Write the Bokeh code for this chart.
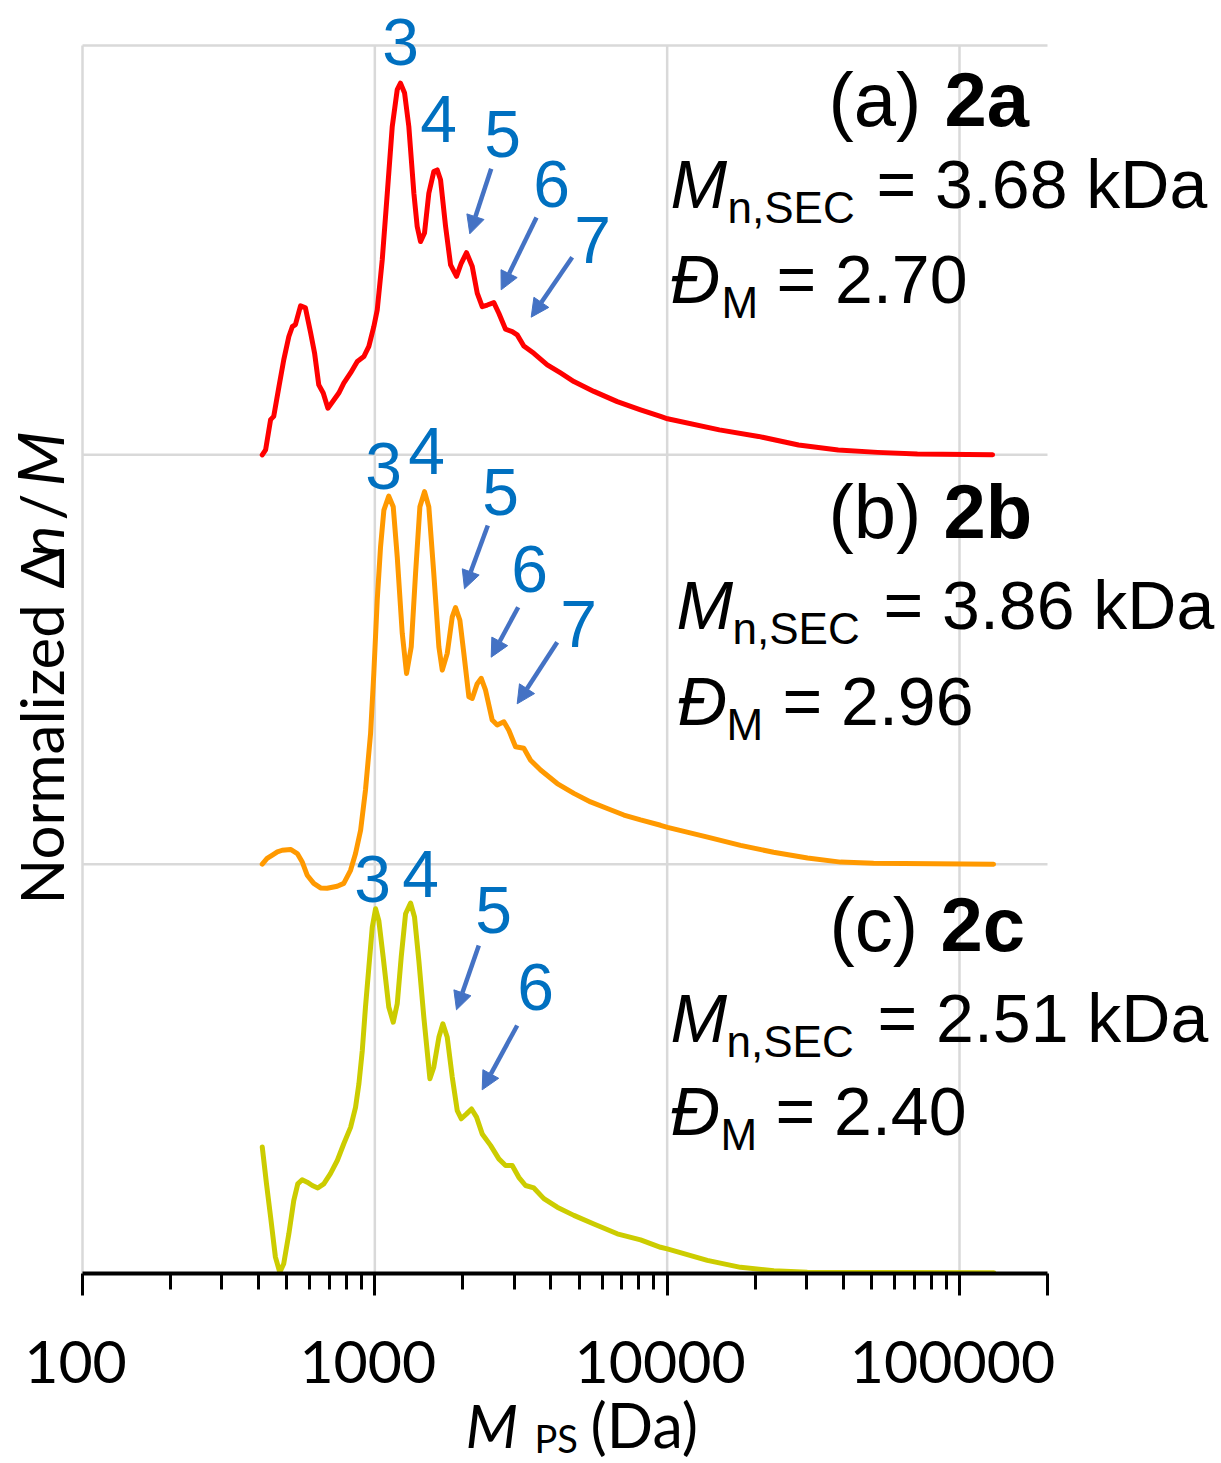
import math
from bokeh.plotting import figure
from bokeh.layouts import column
from bokeh.models import (FixedTicker, Label, Arrow, NormalHead, Range1d,
                          CustomJSTickFormatter)
from bokeh.embed import file_html
from bokeh.resources import INLINE

# ---------------- data ----------------
# x: polystyrene-equivalent molar mass M_PS (Da); y: normalized dn/M
red_mass = [412, 423, 440, 451, 470, 488, 508, 522, 535, 557, 579, 603, 622, 643, 666,
            691, 724, 753, 783, 826, 871, 917, 954, 992, 1019, 1060, 1103, 1147, 1193, 1224,
            1264, 1307, 1360, 1396, 1433, 1479, 1530, 1591, 1635, 1678, 1746, 1816, 1903, 1975, 2059,
            2154, 2240, 2330, 2424, 2553, 2656, 2800, 2951, 3069, 3233, 3499, 3889, 4318, 4796, 5614,
            6750, 8110, 9493, 10030, 15090, 20540, 28150, 38460, 52460, 71780, 129800]
red_norm = [0.000, 0.012, 0.086, 0.094, 0.167, 0.232, 0.289, 0.313, 0.318, 0.364, 0.359, 0.298, 0.249, 0.171, 0.151,
            0.114, 0.134, 0.151, 0.175, 0.200, 0.228, 0.240, 0.265, 0.313, 0.354, 0.476, 0.639, 0.802, 0.892, 0.908,
            0.884, 0.802, 0.639, 0.558, 0.521, 0.542, 0.639, 0.692, 0.696, 0.672, 0.558, 0.464, 0.436, 0.468, 0.494,
            0.460, 0.395, 0.362, 0.366, 0.372, 0.346, 0.307, 0.301, 0.293, 0.266, 0.248, 0.220, 0.200, 0.179, 0.155,
            0.130, 0.110, 0.094, 0.088, 0.061, 0.045, 0.024, 0.012, 0.006, 0.002, 0.000]

orange_mass = [412, 428, 446, 464, 482, 515, 543, 564, 587, 618, 652, 687, 744, 783, 826,
               859, 894, 929, 967, 992, 1019, 1046, 1074, 1116, 1156, 1193, 1241, 1284, 1332, 1378,
               1426, 1479, 1530, 1591, 1656, 1701, 1769, 1840, 1888, 1954, 2016, 2097, 2154, 2240, 2312,
               2392, 2521, 2622, 2763, 2873, 3029, 3233, 3410, 3689, 4207, 4796, 5470, 6239, 7111, 8110,
               9493, 10030, 13750, 17830, 23120, 30210, 39190, 50830, 130800]
orange_norm = [0.000, 0.014, 0.022, 0.030, 0.034, 0.036, 0.026, 0.006, -0.027, -0.047, -0.058, -0.059, -0.054, -0.047, -0.015,
               0.026, 0.083, 0.181, 0.319, 0.466, 0.645, 0.775, 0.865, 0.899, 0.873, 0.751, 0.564, 0.466, 0.531, 0.710,
               0.873, 0.910, 0.873, 0.710, 0.531, 0.474, 0.515, 0.604, 0.627, 0.596, 0.515, 0.409, 0.405, 0.441, 0.454,
               0.425, 0.352, 0.340, 0.348, 0.327, 0.287, 0.283, 0.254, 0.230, 0.197, 0.173, 0.152, 0.136, 0.120, 0.108,
               0.095, 0.090, 0.066, 0.046, 0.029, 0.015, 0.005, 0.002, 0.000]

yellow_mass = [412, 426, 440, 457, 473, 488, 508, 528, 545, 564, 587, 611, 638, 669, 705,
               744, 783, 826, 859, 882, 906, 929, 954, 980, 1006, 1032, 1068, 1116, 1156, 1193,
               1231, 1274, 1325, 1367, 1414, 1471, 1543, 1591, 1656, 1709, 1769, 1840, 1914, 1975, 2059,
               2142, 2228, 2330, 2488, 2656, 2800, 2951, 3108, 3277, 3499, 3786, 4207, 4796, 5614, 6750,
               8110, 9493, 10010, 13720, 17830, 23170, 30150, 131100]
yellow_norm = [0.309, 0.219, 0.138, 0.040, 0.003, 0.024, 0.097, 0.178, 0.219, 0.229, 0.223, 0.215, 0.209, 0.219, 0.244,
               0.276, 0.317, 0.357, 0.406, 0.463, 0.545, 0.651, 0.748, 0.846, 0.891, 0.862, 0.773, 0.651, 0.614, 0.659,
               0.773, 0.879, 0.905, 0.871, 0.765, 0.626, 0.476, 0.504, 0.577, 0.610, 0.577, 0.480, 0.398, 0.378, 0.390,
               0.402, 0.382, 0.341, 0.313, 0.280, 0.264, 0.264, 0.235, 0.215, 0.209, 0.183, 0.162, 0.142, 0.121, 0.097,
               0.082, 0.064, 0.060, 0.032, 0.015, 0.007, 0.003, 0.002]

tick_values = [100, 1000, 10000, 100000]
tick_labels = ["100", "1000", "10000", "100000"]
grid_levels = [1, 2, 3]

panel_names = ["2a", "2b", "2c"]
panel_letters = ["(a)", "(b)", "(c)"]
mn_sec = ["3.68", "3.86", "2.51"]
dispersity = ["2.70", "2.96", "2.40"]

# ---------------- layout (pixel geometry of the picture) ----------------
W, H = 1221, 1463
PLOT_L, PLOT_R = 82, 1047        # x = 100 .. 200000
PLOT_T, PLOT_B = 45, 1273        # y = 3 .. 0
X_MIN, X_MAX = 100, 200000
Y_MAX = 3
DEC = (PLOT_R - PLOT_L) / math.log10(X_MAX / X_MIN)
UNIT = (PLOT_B - PLOT_T) / Y_MAX
TOP_H = PLOT_B + 26               # main figure: frame + tick panel
BASE_SHIFT = 0.36                 # alphabetic baseline correction (em)


def X(px):
    return X_MIN * 10 ** ((px - PLOT_L) / DEC)


def PX(v):
    return PLOT_L + DEC * math.log10(v / X_MIN)


def Y(py):
    return (PLOT_B - py) / UNIT


p = figure(width=W, height=TOP_H, x_axis_type="log",
           x_range=Range1d(X(0), X(W)), y_range=Range1d(0, Y(0)),
           output_backend="svg", toolbar_location=None,
           min_border_left=0, min_border_right=0, min_border_top=0,
           min_border_bottom=TOP_H - PLOT_B)
p.outline_line_color = None
p.yaxis.visible = False
p.xgrid.visible = False
p.ygrid.visible = False

GRID = "#D9D9D9"
p.segment(x0=[X_MIN] * len(grid_levels), x1=[X_MAX] * len(grid_levels),
          y0=grid_levels, y1=grid_levels, line_color=GRID, line_width=2.5)
p.segment(x0=tick_values, x1=tick_values, y0=[0] * len(tick_values),
          y1=[Y_MAX] * len(tick_values), line_color=GRID, line_width=2.5)

ax = p.xaxis[0]
ax.bounds = (X_MIN, X_MAX)
ax.ticker = FixedTicker(ticks=tick_values + [X_MAX],
                        minor_ticks=[k * 10 ** d for d in (2, 3, 4) for k in range(2, 10)])
ax.formatter = CustomJSTickFormatter(code="return '';")
ax.major_label_text_font_size = "0px"
ax.major_label_standoff = 0
ax.axis_line_width = 4
ax.axis_line_color = "black"
ax.major_tick_line_width = 3
ax.major_tick_in = 0
ax.major_tick_out = 22
ax.minor_tick_line_width = 3
ax.minor_tick_in = 0
ax.minor_tick_out = 16

# ---------------- curves ----------------
series = [(red_mass, red_norm, "#FF0000", 2),
          (orange_mass, orange_norm, "#FF9900", 1),
          (yellow_mass, yellow_norm, "#CCCC00", 0)]
for mass, norm, color, off in series:
    p.line(mass, [v + off for v in norm], line_color=color, line_width=5,
           line_join="round", line_cap="round")


# ---------------- annotations ----------------
def lab(fig, px, py, text, size, font="Liberation Sans", style="normal", color="black",
        align="left", rotated=False, ymap=Y):
    if rotated:
        x, y, ang = X(px - BASE_SHIFT * size), ymap(py), math.pi / 2
    else:
        x, y, ang = X(px), ymap(py - BASE_SHIFT * size), 0.0
    fig.add_layout(Label(x=x, y=y, text=text, text_font=font,
                         text_font_size=f"{size}px", text_font_style=style,
                         text_color=color, text_align=align, text_baseline="alphabetic",
                         angle=ang))


panel_pos = [
    dict(l=828, n=944, b1=126, b2=208, b3=303, mx=670, sx=727, ex=876, dx=670, dsx=721, ex2=776),
    dict(l=828, n=943, b1=538, b2=629, b3=725, mx=676, sx=732, ex=883, dx=677, dsx=726, ex2=782),
    dict(l=829, n=940, b1=951, b2=1042, b3=1135, mx=670, sx=726, ex=877, dx=670, dsx=720, ex2=775),
]
for i, pp in enumerate(panel_pos):
    lab(p, pp["l"], pp["b1"], panel_letters[i] + " ", 76)
    lab(p, pp["n"], pp["b1"], panel_names[i], 76, style="bold")
    lab(p, pp["mx"], pp["b2"], "M", 68, style="italic")
    lab(p, pp["sx"], pp["b2"] + 15, "n,SEC", 44)
    lab(p, pp["ex"], pp["b2"], "= " + mn_sec[i] + " kDa", 68)
    lab(p, pp["dx"], pp["b3"], "\u0110", 68, style="italic")
    lab(p, pp["dsx"], pp["b3"] + 15, "M", 44)
    lab(p, pp["ex2"], pp["b3"], "= " + dispersity[i], 68)

NUM = "#0070C0"
numbers = [
    [("3", 400, 65), ("4", 438, 142), ("5", 502, 157), ("6", 551, 207), ("7", 592, 263)],
    [("3", 383, 489), ("4", 426, 474), ("5", 500, 515), ("6", 529, 592), ("7", 578, 647)],
    [("3", 372, 902), ("4", 420, 897), ("5", 493, 933), ("6", 535, 1010)],
]
for grp in numbers:
    for t_, cx, by in grp:
        lab(p, cx, by, t_, 66, color=NUM, align="center")

ARROW = "#4472C4"
arrows = [
    (490.7, 168.3, 469.3, 233.3), (536, 217, 500.7, 289.3), (571.7, 256.7, 530.7, 316.7),
    (487.3, 525, 464, 588.3), (517.7, 606.7, 490.7, 656.7), (556.7, 641.7, 516.7, 703.3),
    (478.3, 945, 456, 1009.3), (516.7, 1025, 481.7, 1089.3),
]
for x0, y0, x1, y1 in arrows:
    p.add_layout(Arrow(x_start=X(x0), y_start=Y(y0), x_end=X(x1), y_end=Y(y1),
                       line_color=ARROW, line_width=4.5,
                       end=NormalHead(size=18, fill_color=ARROW, line_color=ARROW, line_width=1)))

# y-axis title (rotated, reading upwards)
lab(p, 62, 904, "Normalized \u0394", 60, font="Lato", rotated=True)
lab(p, 62, 557, "n", 60, font="Lato", style="italic", rotated=True)
lab(p, 62, 520, "/", 60, font="Lato", rotated=True)
lab(p, 62, 486, "M", 64, font="Lato", style="italic", rotated=True)

# ---------------- tick-label and x-title strip ----------------
t = figure(width=W, height=H - TOP_H, x_axis_type="log",
           x_range=Range1d(X(0), X(W)), y_range=Range1d(H, TOP_H),
           output_backend="svg", toolbar_location=None,
           min_border_left=0, min_border_right=0, min_border_top=0, min_border_bottom=0)
t.outline_line_color = None
t.xaxis.visible = False
t.yaxis.visible = False
t.xgrid.visible = False
t.ygrid.visible = False


def ident(py):
    return py


for v, s in zip(tick_values, tick_labels):
    lab(t, PX(v) - 7, 1383, s, 59, font="Lato", align="center", ymap=ident)

lab(t, 465, 1446, "M", 61, font="Lato", style="italic", ymap=ident)
lab(t, 534, 1451, "PS", 38, font="Lato", ymap=ident)
lab(t, 590, 1446, "(Da)", 61, font="Lato", ymap=ident)

layout = column(p, t, spacing=0)
open("out.html", "w").write(file_html(layout, INLINE))
